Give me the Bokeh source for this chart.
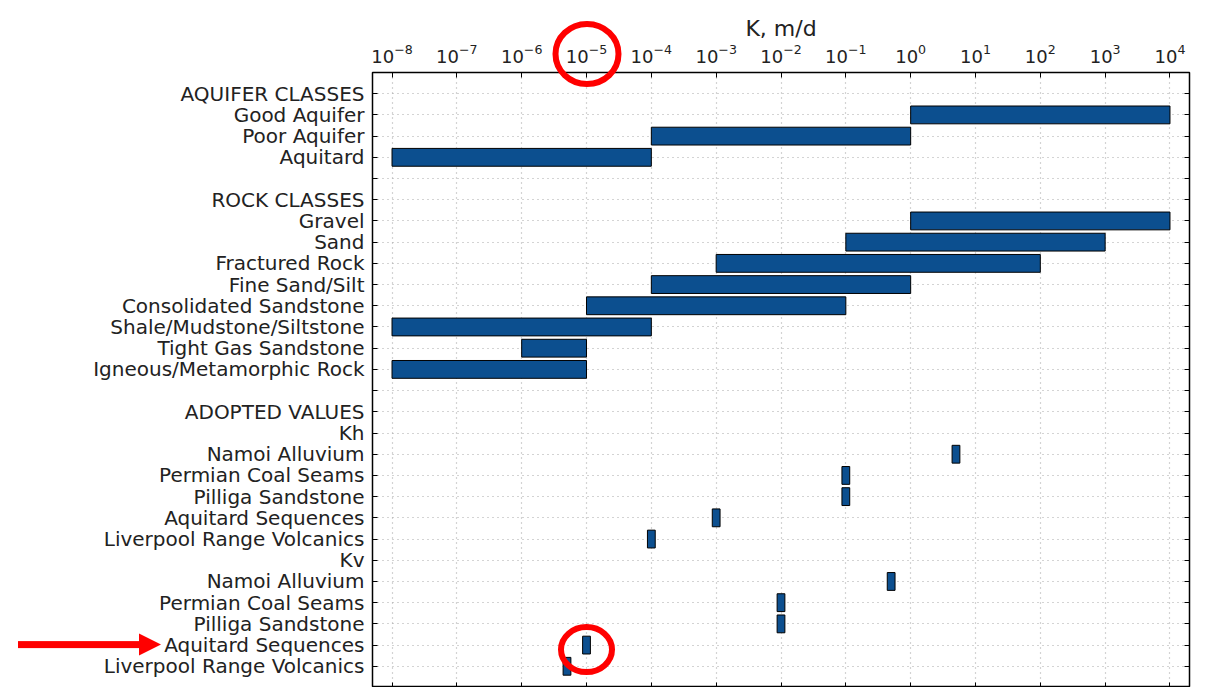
import numpy as np
from bokeh.plotting import figure
from bokeh.layouts import column
from bokeh.models import (Range1d, FixedTicker, LogAxis, LinearAxis, Div,
                          ColumnDataSource, LogTickFormatter)
from bokeh.embed import file_html
from bokeh.resources import INLINE

# ---------------- data ----------------
aquifer_classes = ["Good Aquifer", "Poor Aquifer", "Aquitard"]
aquifer_low = [1e0, 1e-4, 1e-8]
aquifer_high = [1e4, 1e0, 1e-4]

rock_classes = ["Gravel", "Sand", "Fractured Rock", "Fine Sand/Silt", "Consolidated Sandstone",
                "Shale/Mudstone/Siltstone", "Tight Gas Sandstone", "Igneous/Metamorphic Rock"]
rock_low = [1e0, 1e-1, 1e-3, 1e-4, 1e-5, 1e-8, 1e-6, 1e-8]
rock_high = [1e4, 1e3, 1e2, 1e0, 1e-1, 1e-4, 1e-5, 1e-5]

adopted_units = ["Namoi Alluvium", "Permian Coal Seams", "Pilliga Sandstone",
                 "Aquitard Sequences", "Liverpool Range Volcanics"]
kh_values = [5.0, 1e-1, 1e-1, 1e-3, 1e-4]
kv_values = [5e-1, 1e-2, 1e-2, 1e-5, 5e-6]

decade_ticks = [10.0 ** k for k in range(-8, 5)]
x_axis_title = "K, m/d"
highlight_unit = "Aquitard Sequences"

# ---------------- rows ----------------
row_labels = (["AQUIFER CLASSES"] + aquifer_classes + [" "] + ["ROCK CLASSES"] + rock_classes + [" "]
              + ["ADOPTED VALUES", "Kh"] + adopted_units + ["Kv"] + adopted_units)
n_rows = len(row_labels)
aq_start = 1
rock_start = aq_start + len(aquifer_classes) + 2
kh_start = rock_start + len(rock_classes) + 3
kv_start = kh_start + len(adopted_units) + 1

range_src = ColumnDataSource(dict(
    y=[aq_start + i for i in range(len(aquifer_classes))] + [rock_start + i for i in range(len(rock_classes))],
    left=aquifer_low + rock_low,
    right=aquifer_high + rock_high,
))

half = 10 ** 0.06
vals = kh_values + kv_values
point_src = ColumnDataSource(dict(
    y=[kh_start + i for i in range(len(adopted_units))] + [kv_start + i for i in range(len(adopted_units))],
    left=[v / half for v in vals],
    right=[v * half for v in vals],
))

FONT = "DejaVu Sans"
TXT = "#222222"
BAR = "#0c4f8f"
X_MIN, X_MAX = 5e-9, 2e4
FRAME_W, FRAME_H = 817, 615
BORDER_L, BORDER_T = 372, 72

p = figure(x_axis_type="log", x_axis_location="above",
           x_range=Range1d(X_MIN, X_MAX), y_range=Range1d(n_rows, -1),
           frame_width=FRAME_W, frame_height=FRAME_H,
           min_border_left=BORDER_L, min_border_right=12, min_border_top=BORDER_T, min_border_bottom=0,
           output_backend="svg", toolbar_location=None, background_fill_color="white",
           border_fill_color="white")

p.hbar(y="y", left="left", right="right", height=0.84, source=range_src,
       fill_color=BAR, line_color="black", line_width=1)
p.hbar(y="y", left="left", right="right", height=0.84, source=point_src,
       fill_color=BAR, line_color="black", line_width=1)

# grid
p.xgrid.ticker = FixedTicker(ticks=decade_ticks)
p.ygrid.ticker = FixedTicker(ticks=list(range(n_rows)))
for g in (p.xgrid[0], p.ygrid[0]):
    g.grid_line_color = "#a8a8a8"
    g.grid_line_dash = "1 4"
    g.grid_line_width = 1.2

# top axis
xa = p.xaxis[0]
xa.ticker = FixedTicker(ticks=decade_ticks)
xa.formatter = LogTickFormatter()
xa.major_tick_in = 5
xa.major_tick_out = 0
xa.minor_tick_line_color = None
xa.axis_line_color = "black"
xa.major_label_standoff = 10
xa.major_label_text_font = FONT
xa.major_label_text_font_size = "18px"
xa.major_label_text_color = TXT
xa.axis_label = x_axis_title
xa.axis_label_text_font = FONT
xa.axis_label_text_font_size = "22px"
xa.axis_label_text_font_style = "normal"
xa.axis_label_text_color = TXT
xa.axis_label_standoff = 0

# bottom axis (ticks only)
xb = LogAxis(ticker=FixedTicker(ticks=decade_ticks), major_label_text_color=None,
             major_label_text_font_size="1px",
             major_tick_in=5, major_tick_out=0, axis_line_color=None,
             minor_tick_line_color=None, major_label_standoff=0)
p.add_layout(xb, "below")

# left axis
ya = p.yaxis[0]
ya.ticker = FixedTicker(ticks=list(range(n_rows)))
ya.major_label_overrides = {i: lab for i, lab in enumerate(row_labels)}
ya.major_tick_in = 5
ya.major_tick_out = 0
ya.minor_tick_line_color = None
ya.axis_line_color = "black"
ya.major_label_standoff = 8
ya.major_label_text_font = FONT
ya.major_label_text_font_size = "20px"
ya.major_label_text_color = TXT

# right axis (ticks only)
yr = LinearAxis(ticker=FixedTicker(ticks=list(range(n_rows))), major_label_text_color=None,
                major_label_text_font_size="1px",
                major_tick_in=5, major_tick_out=0, axis_line_color=None,
                minor_tick_line_color=None, major_label_standoff=0)
p.add_layout(yr, "right")

p.outline_line_color = "black"
p.outline_line_width = 1.5
p.outline_line_alpha = 1

# ---------------- red highlight overlay ----------------
hi_idx = adopted_units.index(highlight_unit)
hi_val = kv_values[hi_idx]
hi_row = kv_start + hi_idx
px_dec = FRAME_W / (np.log10(X_MAX) - np.log10(X_MIN))
px_row = FRAME_H / (n_rows + 1)


def fx(v):
    return BORDER_L + (np.log10(v) - np.log10(X_MIN)) * px_dec


def fy(r):
    return BORDER_T + (r + 1) * px_row


cx = fx(hi_val)
bar_y = fy(hi_row)
ay = bar_y - 1
svg = (
    '<svg xmlns="http://www.w3.org/2000/svg" width="1210" height="691" style="display:block">'
    f'<ellipse cx="{cx:.1f}" cy="{BORDER_T - 19:.1f}" rx="31.5" ry="30" fill="none" stroke="#ff0000" stroke-width="6"/>'
    f'<ellipse cx="{cx - 0.5:.1f}" cy="{bar_y + 4:.1f}" rx="25.5" ry="22.5" fill="none" stroke="#ff0000" stroke-width="6"/>'
    f'<rect x="17" y="{ay - 3.5:.1f}" width="122" height="7" fill="#ff0000"/>'
    f'<polygon points="138,{ay - 11:.1f} 160,{ay:.1f} 138,{ay + 11:.1f}" fill="#ff0000"/>'
    '</svg>'
)
overlay = Div(text=svg, width=1210, height=691,
              styles={"position": "absolute", "left": "-4px", "top": "-4px",
                      "pointer-events": "none", "z-index": "10"})

layout = column(p, overlay)
open("out.html", "w").write(file_html(layout, INLINE))
